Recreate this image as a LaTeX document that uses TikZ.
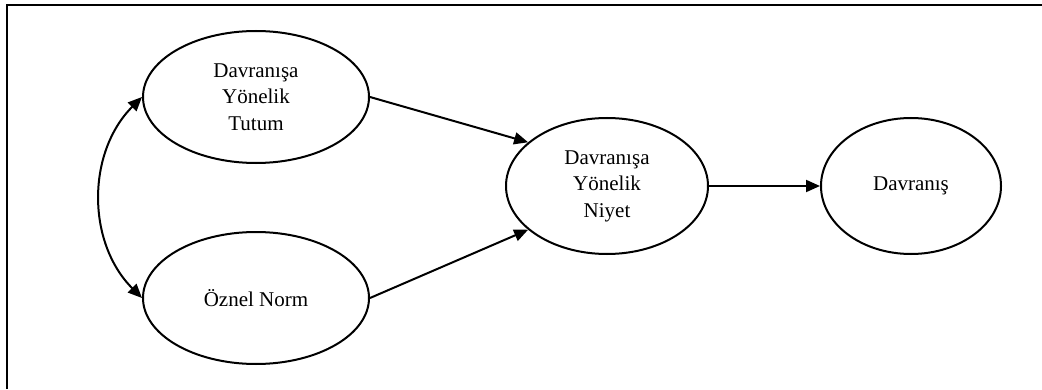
\documentclass[tikz,border=0pt]{standalone}
\usepackage{fontspec}
\setmainfont{Liberation Serif}
\usetikzlibrary{shapes.geometric,arrows.meta}
\begin{document}
\begin{tikzpicture}[x=1pt,y=1pt,
  oval/.style={draw,line width=2pt,ellipse,inner sep=0pt,align=center,
    font=\fontsize{21}{26.5}\selectfont},
  conn/.style={line width=2pt,-{Triangle[length=14pt,width=12pt]}},
  frame/.style={line width=2.8pt}]
\useasboundingbox (0,0) rectangle (1042,389);
\draw[frame] (7,0) -- (7,384) -- (1042,384);
\node[oval,minimum width=226pt,minimum height=132pt] (a) at (256,292) {Davranışa\\Yönelik\\Tutum};
\node[oval,minimum width=226pt,minimum height=132pt] (b) at (256,91) {Öznel Norm};
\node[oval,minimum width=202pt,minimum height=136pt] (c) at (607,203) {Davranışa\\Yönelik\\Niyet};
\node[oval,minimum width=180pt,minimum height=136pt] (d) at (911,203) {Davranış};
\draw[conn] (a.east) -- (c.151);
\draw[conn] (b.east) -- (c.209);
\draw[conn] (c.east) -- (d.west);
\draw[line width=2pt,{Triangle[length=14pt,width=12pt]}-{Triangle[length=14pt,width=12pt]}] (a.west) to[bend right=45] (b.west);
\end{tikzpicture}
\end{document}
